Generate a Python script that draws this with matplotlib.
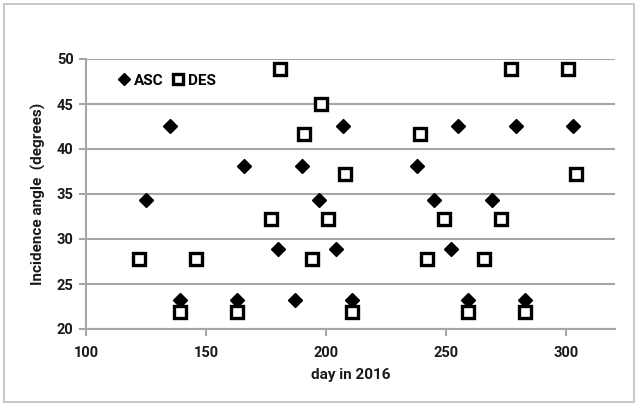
import matplotlib
matplotlib.use("Agg")
import matplotlib.pyplot as plt
from matplotlib.patches import Rectangle

asc_day = [125, 135, 139, 163, 166, 180, 187, 190, 197, 204, 207, 211, 238, 245, 252, 255, 259, 269, 279, 283, 303]
asc_angle = [34.3, 42.6, 23.2, 23.2, 38.1, 28.9, 23.2, 38.1, 34.3, 28.9, 42.6, 23.2, 38.1, 34.3, 28.9, 42.6, 23.2, 34.3, 42.6, 23.2, 42.6]

des_day = [122, 139, 146, 163, 177, 181, 191, 194, 198, 201, 208, 211, 239, 242, 249, 259, 266, 273, 277, 283, 301, 304]
des_angle = [27.8, 21.9, 27.8, 21.9, 32.2, 48.9, 41.7, 27.8, 45.0, 32.2, 37.2, 21.9, 41.7, 27.8, 32.2, 21.9, 27.8, 32.2, 48.9, 21.9, 48.9, 37.2]

xticks = [100, 150, 200, 250, 300]
yticks = [20, 25, 30, 35, 40, 45, 50]

plt.rcParams['font.family'] = ['Roboto', 'DejaVu Sans']
plt.rcParams['font.weight'] = 'bold'

W, H = 637, 404
fig = plt.figure(figsize=(W / 100, H / 100), dpi=100)
fig.patches.append(Rectangle((4 / W, 1 - 402 / H), 630 / W, 398 / H, transform=fig.transFigure,
                             fill=False, edgecolor='#bfbfbf', linewidth=1.2))

ax = fig.add_axes([86 / W, 1 - 329 / H, (615 - 86) / W, (329 - 59) / H])
ax.set_xlim(100, 320.4)
ax.set_ylim(20, 50)
ax.set_xticks(xticks)
ax.set_yticks(yticks)

gc = '#a6a6a6'
ax.grid(axis='y', color=gc, linewidth=1.5)
ax.set_axisbelow(True)
for s in ['top', 'right']:
    ax.spines[s].set_visible(False)
for s in ['left', 'bottom']:
    ax.spines[s].set_color(gc)
    ax.spines[s].set_linewidth(1.5)
ax.tick_params(axis='both', colors=gc, width=1.5, length=5, direction='out',
               labelcolor='#1a1a1a', labelsize=10.5)
for lab in ax.get_xticklabels() + ax.get_yticklabels():
    lab.set_fontweight('bold')
ax.tick_params(axis='x', pad=7)
ax.tick_params(axis='y', pad=4)

ax.plot(asc_day, asc_angle, linestyle='none', marker='D', markersize=7,
        color='black', label='ASC', clip_on=False)
ax.plot(des_day, des_angle, linestyle='none', marker='s', markersize=8.4,
        markerfacecolor='white', markeredgecolor='black', markeredgewidth=2.4,
        label='DES', clip_on=False)

leg = ax.legend(loc='center left', ncol=2, frameon=False, handlelength=0.5, handletextpad=0.4,
                columnspacing=0.7, bbox_to_anchor=(0.064, 0.92), borderpad=0, borderaxespad=0,
                markerscale=0.9, prop={'weight': 'bold', 'size': 11})

ax.set_xlabel('day in 2016', fontsize=11, fontweight='bold', color='#1a1a1a', labelpad=6)
ax.set_ylabel('Incidence angle  (degrees)', fontsize=11, fontweight='bold', color='#1a1a1a', labelpad=8)

fig.savefig('out.png', dpi=100)
